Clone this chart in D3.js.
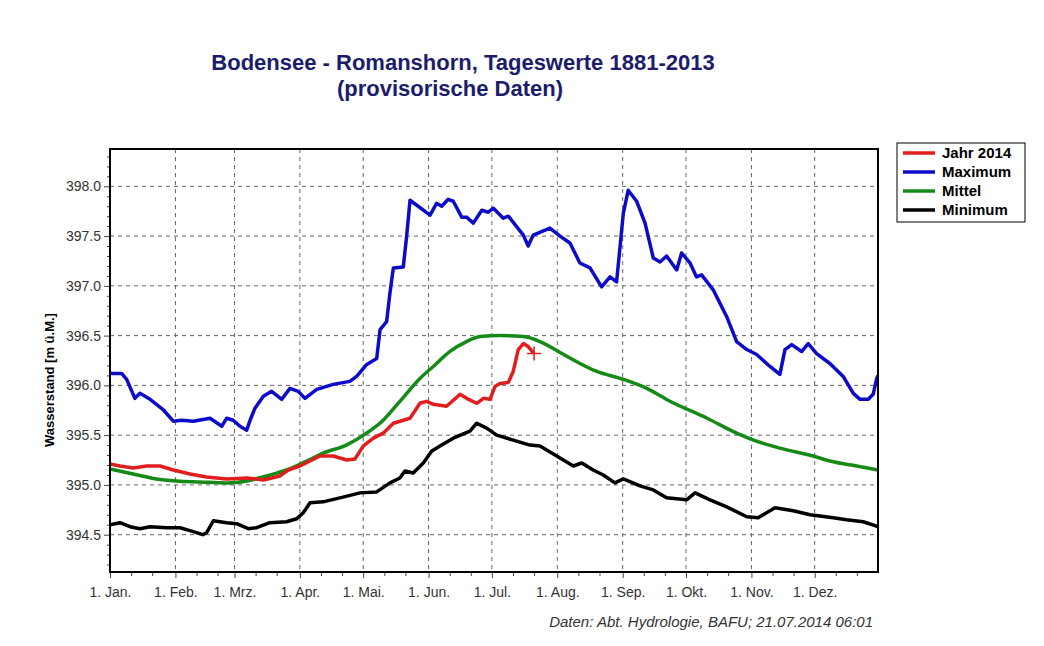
<!DOCTYPE html>
<html>
<head>
<meta charset="utf-8">
<script src="https://cdnjs.cloudflare.com/ajax/libs/d3/7.8.5/d3.min.js"></script>
<style>
    body { margin: 0; background: #fff; }
    svg { font-family: "Liberation Sans", Arial, sans-serif; }
</style>
</head>
<body>
<div id="graph"></div>
<script>
const monthDays = [0, 31, 59, 90, 120, 151, 181, 212, 243, 273, 304, 334];
const monthLabels = ['1. Jan.', '1. Feb.', '1. Mrz.', '1. Apr.', '1. Mai.', '1. Jun.', '1. Jul.', '1. Aug.', '1. Sep.', '1. Okt.', '1. Nov.', '1. Dez.'];
const yTicks = [394.5, 395.0, 395.5, 396.0, 396.5, 397.0, 397.5, 398.0];

// [day of year, Wasserstand m ü.M.]
const jahr2014 = [[0, 395.21], [4.7, 395.19], [11, 395.17], [17.4, 395.19], [23.7, 395.19], [30, 395.15], [37.9, 395.11],
    [45.8, 395.08], [55.3, 395.06], [64.8, 395.07], [72.7, 395.05], [80.6, 395.09], [84.5, 395.15], [90, 395.19],
    [94.8, 395.24], [99.5, 395.29], [105.8, 395.29], [112.2, 395.25], [116.1, 395.26], [120, 395.39], [124.8, 395.47],
    [129.5, 395.52], [134.3, 395.62], [139, 395.65], [142.2, 395.67], [146.9, 395.82], [150.1, 395.84], [153.2, 395.81],
    [159.5, 395.79], [165.9, 395.91], [169, 395.87], [173.8, 395.82], [177, 395.87], [180.1, 395.86], [182.5, 395.99],
    [184.8, 396.02], [188.8, 396.03], [191.1, 396.14], [193.5, 396.36], [195.9, 396.42], [198.2, 396.39], [201, 396.32]];

const maximum = [[0, 396.12], [5.5, 396.12], [7.9, 396.06], [11.8, 395.87], [14.2, 395.92], [19, 395.86], [25, 395.76],
    [30, 395.64], [34, 395.65], [39.5, 395.64], [47.4, 395.67], [53, 395.59], [55.3, 395.67], [58.4, 395.65],
    [61.6, 395.59], [64.8, 395.55], [66.4, 395.65], [68.7, 395.77], [72.7, 395.89], [76.6, 395.94], [81.4, 395.86],
    [85.3, 395.97], [89.2, 395.94], [92.4, 395.87], [98, 395.96], [105.8, 396.01], [113.7, 396.04], [116.9, 396.09],
    [121.7, 396.21], [126.4, 396.27], [128, 396.56], [131.1, 396.64], [132.7, 396.93], [134.3, 397.18], [139, 397.19],
    [140.6, 397.5], [142.2, 397.86], [151.7, 397.71], [154.8, 397.83], [157.2, 397.8], [160.3, 397.87], [162.7, 397.85],
    [166.7, 397.69], [169, 397.69], [172.2, 397.63], [176.2, 397.76], [179.3, 397.74], [181.7, 397.78], [186.4, 397.68],
    [188.8, 397.7], [195.9, 397.51], [198.2, 397.4], [200.6, 397.51], [208.5, 397.58], [213.3, 397.5], [218, 397.43],
    [222.7, 397.23], [227.5, 397.18], [233, 396.99], [237, 397.09], [240.1, 397.04], [243.3, 397.73], [245.6, 397.96],
    [249.6, 397.85], [253.6, 397.63], [257.5, 397.28], [260.7, 397.24], [263.8, 397.3], [268.6, 397.16], [270.9, 397.33],
    [274.9, 397.23], [278, 397.09], [280.4, 397.11], [285.9, 396.96], [292.3, 396.69], [297, 396.44], [301.8, 396.36],
    [306.5, 396.31], [312.8, 396.19], [317.5, 396.11], [319.9, 396.36], [323.1, 396.41], [327.8, 396.34], [330.9, 396.42],
    [334.9, 396.32], [341.2, 396.22], [347.5, 396.09], [352.3, 395.92], [355.5, 395.86], [359.4, 395.86], [361.7, 395.91],
    [363.4, 396.07], [364, 396.1]];

const mittel = [[0, 395.16], [11, 395.11], [22, 395.06], [31.6, 395.04], [42.6, 395.03], [55.3, 395.02], [64.8, 395.04],
    [74.3, 395.09], [83.7, 395.15], [93.2, 395.24], [101, 395.32], [112, 395.4], [121.6, 395.52], [129.5, 395.65],
    [137.4, 395.84], [146.9, 396.07], [153.2, 396.19], [161, 396.34], [169, 396.44], [175.4, 396.49], [184.8, 396.5],
    [196, 396.49], [203.8, 396.44], [215, 396.31], [230.7, 396.14], [243.3, 396.06], [254.4, 395.97], [265.4, 395.84],
    [283, 395.67], [297, 395.52], [305, 395.45], [317.5, 395.37], [333.3, 395.29], [341.2, 395.24], [353.9, 395.19],
    [364, 395.15]];

const minimum = [[0, 394.6], [4.7, 394.62], [9.5, 394.58], [14.2, 394.56], [19, 394.58], [26.9, 394.57], [33.2, 394.57],
    [37.9, 394.54], [44, 394.5], [45.8, 394.52], [49, 394.64], [55.3, 394.62], [60, 394.61], [65.5, 394.56],
    [69.5, 394.57], [75.8, 394.62], [83.7, 394.63], [88.5, 394.66], [91.6, 394.72], [94.8, 394.82], [101, 394.83],
    [109, 394.87], [118.5, 394.92], [126.4, 394.93], [132.7, 395.02], [137.4, 395.07], [139.8, 395.14], [143.7, 395.12],
    [148.5, 395.22], [152.5, 395.34], [156.4, 395.39], [162.7, 395.47], [170.6, 395.54], [173.8, 395.62], [178.5, 395.57],
    [183.3, 395.5], [191.1, 395.45], [199, 395.4], [203.8, 395.39], [213.3, 395.27], [219.6, 395.19], [223.6, 395.22],
    [229, 395.15], [233.8, 395.1], [239.3, 395.02], [243.3, 395.06], [251.2, 394.99], [257.5, 394.95], [263.8, 394.87],
    [273.3, 394.85], [277.3, 394.92], [284.4, 394.85], [292.3, 394.78], [301.8, 394.68], [307.2, 394.67], [311.2, 394.72],
    [315.2, 394.77], [323.8, 394.74], [331.8, 394.7], [342.8, 394.67], [349.1, 394.65], [357, 394.63], [364, 394.58]];

const series = [
    { name: 'Jahr 2014', data: jahr2014, color: '#e01e1e' },
    { name: 'Maximum', data: maximum, color: '#0c0cc8' },
    { name: 'Mittel', data: mittel, color: '#168a16' },
    { name: 'Minimum', data: minimum, color: '#000000' }
];

const w = 1044;
const h = 646;
const plotL = 110, plotR = 878, plotT = 149, plotB = 572;

const svg = d3.select('#graph')
    .append('svg')
    .attr('width', w)
    .attr('height', h)

const xScale = d3.scaleLinear().domain([0, 364]).range([plotL, plotR]);
const yScale = d3.scaleLinear().domain([394.125, 398.375]).range([plotB, plotT]);

// title
svg.append('text')
    .attr('x', 463).attr('y', 70)
    .attr('text-anchor', 'middle')
    .style('font-size', '22px').style('font-weight', 'bold')
    .attr('fill', '#1c1c6c')
    .text('Bodensee - Romanshorn, Tageswerte 1881-2013')
svg.append('text')
    .attr('x', 450).attr('y', 96)
    .attr('text-anchor', 'middle')
    .style('font-size', '22px').style('font-weight', 'bold')
    .attr('fill', '#1c1c6c')
    .text('(provisorische Daten)')

// grid
svg.append('g')
    .selectAll('line')
    .data(yTicks)
    .enter()
    .append('line')
    .attr('x1', plotL).attr('x2', plotR)
    .attr('y1', d => yScale(d)).attr('y2', d => yScale(d))
    .attr('stroke', '#666').attr('stroke-dasharray', '4,4')
svg.append('g')
    .selectAll('line')
    .data(monthDays.slice(1))
    .enter()
    .append('line')
    .attr('y1', plotT).attr('y2', plotB)
    .attr('x1', d => xScale(d)).attr('x2', d => xScale(d))
    .attr('stroke', '#666').attr('stroke-dasharray', '4,4')

// axes
const minorX = [];
monthDays.forEach(d => { minorX.push(d + 10, d + 20); });
const minorY = d3.range(3942, 3984).map(d => d / 10).filter(d => Math.round(d * 10) % 5 !== 0);

const xAxis = d3.axisBottom(xScale).tickValues(monthDays).tickFormat((d, i) => monthLabels[i]).tickSize(6).tickPadding(9);
const xMinor = d3.axisBottom(xScale).tickValues(minorX).tickFormat('').tickSize(4);
const yAxis = d3.axisLeft(yScale).tickValues(yTicks).tickFormat(d3.format('.1f')).tickSize(6).tickPadding(3);
const yMinor = d3.axisLeft(yScale).tickValues(minorY).tickFormat('').tickSize(3);

[[xAxis, 'translate(0,' + plotB + ')'], [xMinor, 'translate(0,' + plotB + ')'],
 [yAxis, 'translate(' + plotL + ',0)'], [yMinor, 'translate(' + plotL + ',0)']].forEach(a => {
    const g = svg.append('g').attr('transform', a[1]).call(a[0]);
    g.select('.domain').remove();
    g.selectAll('line').attr('stroke', '#444');
    g.selectAll('text').style('font-size', '14px').attr('fill', '#333');
});

// lines
svg.append('clipPath').attr('id', 'clip')
    .append('rect').attr('x', plotL).attr('y', plotT).attr('width', plotR - plotL).attr('height', plotB - plotT)

const line = d3.line()
    .x(d => xScale(d[0]))
    .y(d => yScale(d[1]))

svg.append('g')
    .attr('clip-path', 'url(#clip)')
    .selectAll('path')
    .data(series.slice().reverse())
    .enter()
    .append('path')
    .attr('d', d => line.curve(d.name === 'Mittel' ? d3.curveMonotoneX : d3.curveLinear)(d.data))
    .attr('fill', 'none')
    .attr('stroke', d => d.color)
    .attr('stroke-width', 3.5)
    .attr('stroke-linejoin', 'round')

// marker at the last value of 2014
const last = jahr2014[jahr2014.length - 1];
const mx = xScale(last[0]), my = yScale(last[1]);
svg.append('path')
    .attr('d', 'M' + (mx - 7) + ',' + my + 'H' + (mx + 7) + 'M' + mx + ',' + (my - 7) + 'V' + (my + 7))
    .attr('stroke', '#e01e1e').attr('stroke-width', 1.5)

// frame
svg.append('rect')
    .attr('x', plotL).attr('y', plotT)
    .attr('width', plotR - plotL).attr('height', plotB - plotT)
    .attr('fill', 'none').attr('stroke', '#000').attr('stroke-width', 2)

// y title
svg.append('text')
    .attr('transform', 'translate(54,' + 380 + ') rotate(-90)')
    .attr('text-anchor', 'middle')
    .style('font-size', '13px').style('font-weight', 'bold')
    .text('Wasserstand [m ü.M.]')

// legend
const legend = svg.append('g')
legend.append('rect')
    .attr('x', 897).attr('y', 143).attr('width', 128).attr('height', 79)
    .attr('fill', '#fff').attr('stroke', '#000')
const item = legend.selectAll('g.item')
    .data(series)
    .enter()
    .append('g')
    .attr('transform', (d, i) => 'translate(0,' + (153 + i * 19) + ')')
item.append('line')
    .attr('x1', 903).attr('x2', 935)
    .attr('stroke', d => d.color).attr('stroke-width', 3.5)
item.append('text')
    .attr('x', 942).attr('dy', '0.35em')
    .style('font-size', '15px').style('font-weight', 'bold')
    .text(d => d.name)

// source
svg.append('text')
    .attr('x', 873).attr('y', 627)
    .attr('text-anchor', 'end')
    .style('font-size', '15px').style('font-style', 'italic')
    .attr('fill', '#333')
    .text('Daten: Abt. Hydrologie, BAFU; 21.07.2014 06:01')
</script>
</body>
</html>
